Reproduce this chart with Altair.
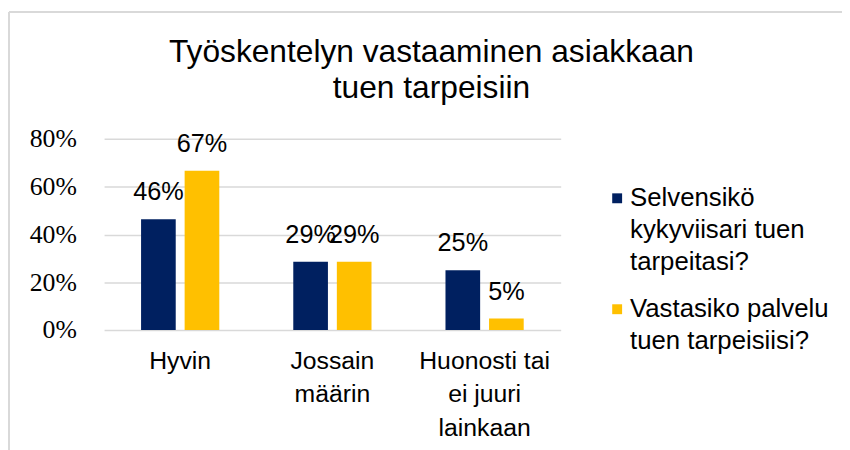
import json
import altair as alt
import pandas as pd

# ---- data ----
categories = ["Hyvin", "Jossain määrin", "Huonosti tai ei juuri lainkaan"]
category_lines = [["Hyvin"], ["Jossain", "määrin"], ["Huonosti tai", "ei juuri", "lainkaan"]]
series = ["Selvensikö kykyviisari tuen tarpeitasi?", "Vastasiko palvelu tuen tarpeisiisi?"]
series_lines = [["Selvensikö", "kykyviisari tuen", "tarpeitasi?"], ["Vastasiko palvelu", "tuen tarpeisiisi?"]]
values_s1 = [0.464, 0.286, 0.25]
values_s2 = [0.667, 0.286, 0.048]
colors = ["#002060", "#FFC000"]
y_ticks = [0, 0.2, 0.4, 0.6, 0.8]
title_lines = ["Työskentelyn vastaaminen asiakkaan", "tuen tarpeisiin"]

rows = []
for s, vals in zip(series, [values_s1, values_s2]):
    for c, v in zip(categories, vals):
        rows.append({"category": c, "series": s, "value": v})
df = pd.DataFrame(rows)


def map_expr(keys, lines):
    expr = "datum.label"
    for k, l in zip(keys, lines):
        expr = f"datum.label == {json.dumps(k)} ? {json.dumps(l)} : (" + expr + ")"
    return expr


W, H = 461, 193
PAD_L, PAD_T = 97, 130

x = alt.X("category:N", sort=categories, title=None,
          scale=alt.Scale(paddingInner=0, paddingOuter=0),
          axis=alt.Axis(labelExpr=map_expr(categories, category_lines), labelAngle=0,
                        labelFont="Liberation Sans", labelFontSize=25, labelColor="#000000",
                        labelBaseline="top", labelPadding=19, labelLineHeight=33.5,
                        ticks=False, domain=False, grid=False, labelLimit=300))
xo = alt.XOffset("series:N", sort=series,
                 scale=alt.Scale(paddingInner=0.2045, paddingOuter=0.849))

base = alt.Chart(df)

bars = base.mark_bar().encode(
    x=x, xOffset=xo,
    y=alt.Y("value:Q", title=None,
            scale=alt.Scale(domain=[0, 0.8], nice=False),
            axis=alt.Axis(values=y_ticks, format=".0%", labelFont="Liberation Serif",
                          labelFontSize=26, labelColor="#000000", labelPadding=28,
                          ticks=False, domain=False, gridColor="#d9d9d9", gridWidth=1.5)),
    color=alt.Color("series:N", sort=series, title=None,
                    scale=alt.Scale(domain=series, range=colors),
                    legend=alt.Legend(orient="none", legendX=505, legendY=47,
                                      symbolType="square", symbolSize=100, symbolStrokeWidth=0,
                                      labelFont="Liberation Sans", labelFontSize=26,
                                      labelColor="#000000", labelLimit=400, labelOffset=0,
                                      rowPadding=22,
                                      labelExpr=map_expr(series, series_lines))),
)

labels = base.mark_text(font="Liberation Sans", fontSize=25.5, color="#000000",
                        baseline="middle", dy=-27).encode(
    x=alt.X("category:N", sort=categories), xOffset=xo,
    y="value:Q",
    text=alt.Text("value:Q", format=".0%"),
)

frame_left = alt.Chart(pd.DataFrame({"k": [0]})).mark_rule(color="#d9d9d9", strokeWidth=2, clip=False).encode(
    x=alt.value(-96), y=alt.value(-128), y2=alt.value(320))
frame_top = alt.Chart(pd.DataFrame({"k": [0]})).mark_rule(color="#d9d9d9", strokeWidth=2, clip=False).encode(
    x=alt.value(-96), x2=alt.value(760), y=alt.value(-128))

chart = alt.layer(frame_left, frame_top, bars, labels).properties(
    width=W, height=H,
    padding={"left": PAD_L, "top": PAD_T, "right": 842 - PAD_L - W, "bottom": 442 - PAD_T - H},
    autosize=alt.AutoSizeParams(type="none"),
    title=alt.TitleParams(title_lines, anchor="middle", dx=100, dy=127, offset=32,
                          font="Liberation Sans", fontSize=32, fontWeight="normal",
                          color="#000000", lineHeight=37),
).configure(view=alt.ViewConfig(stroke=None), style={"guide-label": {"lineHeight": 32}})

chart.save("out.html", embed_options={"renderer": "svg", "actions": False})
